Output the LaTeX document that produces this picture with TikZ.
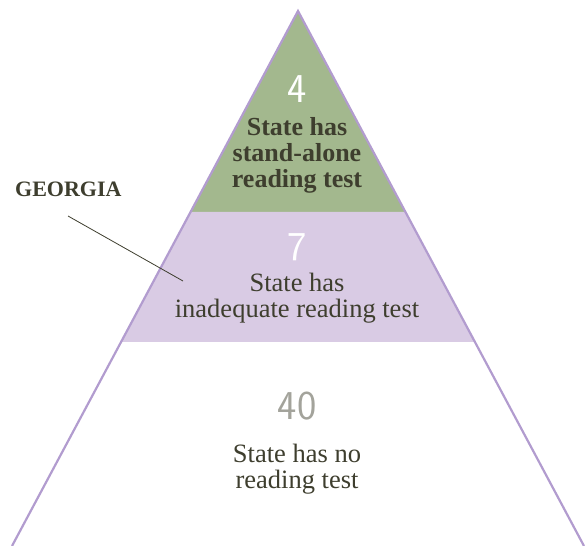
\documentclass[tikz,border=0pt]{standalone}
\usepackage{fontspec}
\setmainfont{Liberation Serif}
\usepackage{tikz}
\usetikzlibrary{positioning,calc}
\definecolor{tipgreen}{HTML}{A3B88E}
\definecolor{midlilac}{HTML}{D9CBE4}
\definecolor{edgelilac}{HTML}{B29CCF}
\definecolor{inkolive}{HTML}{3E3E2E}
\definecolor{numgray}{HTML}{A3A39B}

\begin{document}
\begin{tikzpicture}[
  x=1pt,y=-1pt,
  bandtxt/.style={font=\fontsize{26.5}{26}\selectfont, color=inkolive, align=center, inner sep=0pt},
  numlbl/.style={font=\sffamily\fontsize{41}{41}\selectfont, inner sep=0pt},
  calllbl/.style={font=\bfseries\fontsize{22}{24}\selectfont, color=inkolive, inner sep=0pt},
  pointer/.style={line width=0.8pt, color=inkolive},
]
\useasboundingbox (0,0) rectangle (587,546);
% corners of the pyramid and the band limits
\coordinate (apex) at (298,11);
\coordinate (bl) at (12,546);
\coordinate (br) at (584,546);
\coordinate (gl) at ($(apex)!{201/535}!(bl)$);
\coordinate (gr) at ($(apex)!{201/535}!(br)$);
\coordinate (pl) at ($(apex)!{331/535}!(bl)$);
\coordinate (pr) at ($(apex)!{331/535}!(br)$);
\fill[tipgreen] (apex) -- (gl) -- (gr) -- cycle;
\fill[midlilac] (gl) -- (pl) -- (pr) -- (gr) -- cycle;
\draw[edgelilac, line width=2.2pt, line join=miter] (bl) -- (apex) -- (br);
% band texts
\node[numlbl, text=white] (tipnum) at (297,89) {4};
\node[bandtxt, font=\bfseries\fontsize{26}{26}\selectfont] (tiptext) at (297,155.6) {State has\\stand-alone\\reading test};
\node[numlbl, text=white] (midnum) at (297,247.5) {7};
\node[bandtxt] (midtext) at (297,298.6) {State has\\inadequate reading test};
\node[numlbl, text=numgray] (basenum) at (297,406) {40};
\node[bandtxt] (basetext) at (297,469.6) {State has no\\reading test};
% callout
\node[calllbl, anchor=base west] (galbl) at (15,196) {GEORGIA};
\coordinate (gastart) at (68,216);
\coordinate (gatip) at (183,281);
\draw[pointer] (gastart) -- (gatip);
\end{tikzpicture}
\end{document}
